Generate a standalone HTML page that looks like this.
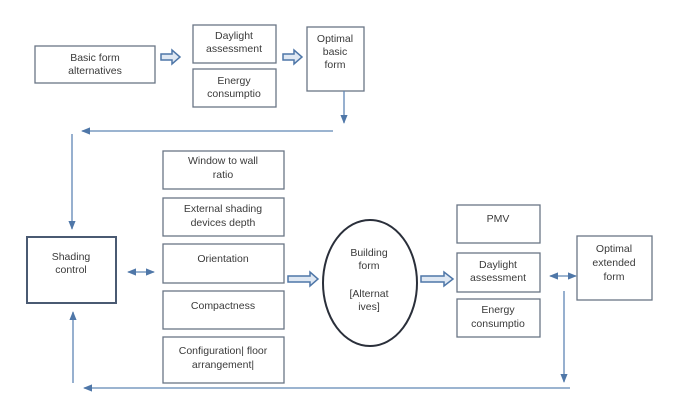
<!DOCTYPE html>
<html><head><meta charset="utf-8"><style>
body{margin:0;background:#fff}
svg{display:block}
text{font-family:"Liberation Sans",sans-serif;font-size:10.5px;fill:#3a3a3a;text-anchor:middle}
.b{fill:#fff;stroke:#6a7585;stroke-width:1.3}
.l{stroke:#5f86b5;stroke-width:1.3;fill:none}
</style></head><body>
<svg width="685" height="408" viewBox="0 0 685 408">
<defs>
<marker id="a" viewBox="0 0 10 10" refX="9" refY="5" markerWidth="7" markerHeight="7" orient="auto-start-reverse"><path d="M0,1 L10,5 L0,9 Z" fill="#4f77a8"/></marker>
</defs>
<rect class="b" x="35" y="46" width="120" height="37"/>
<text x="95" y="61">Basic form</text><text x="95" y="74">alternatives</text>
<rect class="b" x="193" y="25" width="83" height="38"/>
<text x="234" y="39">Daylight</text><text x="234" y="52">assessment</text>
<rect class="b" x="193" y="69" width="83" height="38"/>
<text x="234" y="84">Energy</text><text x="234" y="97">consumptio</text>
<rect class="b" x="307" y="27" width="57" height="64"/>
<text x="335" y="42">Optimal</text><text x="335" y="55">basic</text><text x="335" y="68">form</text>
<path d="M161,54 H172 V50 L180,57 L172,64 V60 H161 Z" fill="#dfe8f3" stroke="#4f77a8" stroke-width="1.5"/>
<path d="M283,54 H294 V50 L302,57 L294,64 V60 H283 Z" fill="#dfe8f3" stroke="#4f77a8" stroke-width="1.5"/>
<line class="l" x1="344" y1="91" x2="344" y2="123" marker-end="url(#a)"/>
<line class="l" x1="333" y1="131" x2="82" y2="131" marker-end="url(#a)"/>
<line class="l" x1="72" y1="134" x2="72" y2="229" marker-end="url(#a)"/>
<rect x="27" y="237" width="89" height="66" fill="#fff" stroke="#4a5a72" stroke-width="2"/>
<text x="71" y="260">Shading</text><text x="71" y="273">control</text>
<line class="l" x1="128" y1="272" x2="154" y2="272" marker-start="url(#a)" marker-end="url(#a)"/>
<rect class="b" x="163" y="151" width="121" height="38"/>
<text x="223" y="164">Window to wall</text><text x="223" y="178">ratio</text>
<rect class="b" x="163" y="198" width="121" height="38"/>
<text x="223" y="212">External shading</text><text x="223" y="226">devices depth</text>
<rect class="b" x="163" y="244" width="121" height="39"/>
<text x="223" y="262">Orientation</text>
<rect class="b" x="163" y="291" width="121" height="38"/>
<text x="223" y="309">Compactness</text>
<rect class="b" x="163" y="337" width="121" height="46"/>
<text x="223" y="354">Configuration| floor</text><text x="223" y="368">arrangement|</text>
<path d="M288,276 H310 V272 L318,279 L310,286 V282 H288 Z" fill="#dfe8f3" stroke="#4f77a8" stroke-width="1.5"/>
<ellipse cx="370" cy="283" rx="47" ry="63" fill="#fff" stroke="#2a2f3a" stroke-width="2"/>
<text x="369" y="256">Building</text><text x="369" y="269">form</text>
<text x="369" y="297">[Alternat</text><text x="369" y="310">ives]</text>
<path d="M421,276 H444 V272 L453,279 L444,286 V282 H421 Z" fill="#dfe8f3" stroke="#4f77a8" stroke-width="1.5"/>
<rect class="b" x="457" y="205" width="83" height="38"/>
<text x="498" y="222">PMV</text>
<rect class="b" x="457" y="253" width="83" height="39"/>
<text x="498" y="268">Daylight</text><text x="498" y="281">assessment</text>
<rect class="b" x="457" y="299" width="83" height="38"/>
<text x="498" y="313">Energy</text><text x="498" y="327">consumptio</text>
<line class="l" x1="550" y1="276" x2="576" y2="276" marker-start="url(#a)" marker-end="url(#a)"/>
<rect class="b" x="577" y="236" width="75" height="64"/>
<text x="614" y="252">Optimal</text><text x="614" y="266">extended</text><text x="614" y="280">form</text>
<line class="l" x1="564" y1="291" x2="564" y2="382" marker-end="url(#a)"/>
<line class="l" x1="570" y1="388" x2="84" y2="388" marker-end="url(#a)"/>
<line class="l" x1="73" y1="383" x2="73" y2="312" marker-end="url(#a)"/>
</svg>
</body></html>
